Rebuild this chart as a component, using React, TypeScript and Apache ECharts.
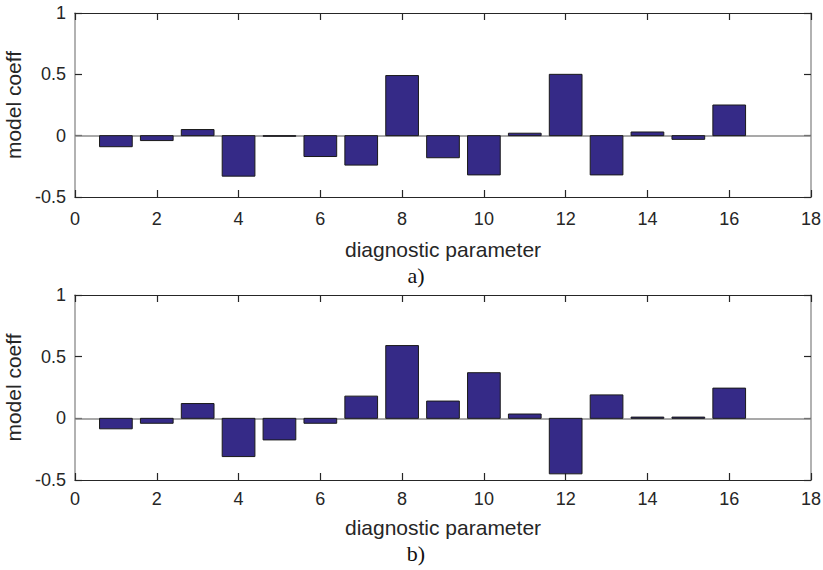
import React, { useEffect, useRef } from "react";
import * as echarts from "echarts";

const params = [1, 2, 3, 4, 5, 6, 7, 8, 9, 10, 11, 12, 13, 14, 15, 16];
const coeffA = [-0.09, -0.04, 0.05, -0.33, -0.005, -0.17, -0.24, 0.49, -0.18, -0.32, 0.02, 0.5, -0.32, 0.03, -0.03, 0.25];
const coeffB = [-0.085, -0.04, 0.12, -0.31, -0.175, -0.04, 0.18, 0.59, 0.14, 0.37, 0.035, -0.45, 0.19, 0.01, 0.01, 0.245];
const xTicks = { min: 0, max: 18, interval: 2 };
const yTicks = { min: -0.5, max: 1, interval: 0.5 };
const panelLabels = ["a)", "b)"];
const xName = "diagnostic parameter";
const yName = "model coeff";

const BAR_HALF = 0.4;
const BAR_COLOR = "#352a87";
const TEXT_COLOR = "#262626";
const SANS = "Liberation Sans, Arial, sans-serif";

export default function App() {
  const ref = useRef<HTMLDivElement>(null);
  useEffect(() => {
    if (!ref.current) return;
    const chart = echarts.init(ref.current, null, { renderer: "svg" });
    const grids = [
      { left: 75, right: 12, top: 13, height: 184, outerBoundsMode: "none", containLabel: false },
      { left: 75, right: 12, top: 295, height: 185, outerBoundsMode: "none", containLabel: false },
    ];
    const labelMargins = [13, 10];
    const nameGaps = [42, 37];
    const labelY = [275, 553];
    const xAxes: any[] = [];
    const yAxes: any[] = [];
    grids.forEach((_, g) => {
      xAxes.push({
        type: "value",
        gridIndex: g,
        position: "bottom",
        ...xTicks,
        name: xName,
        nameLocation: "middle",
        nameGap: nameGaps[g],
        nameTextStyle: { fontFamily: SANS, fontSize: 21, color: TEXT_COLOR },
        axisLine: { show: true, onZero: false, lineStyle: { color: "#262626", width: 1.2 } },
        axisTick: { show: true, inside: true, length: 7, lineStyle: { color: "#262626", width: 1.2 } },
        axisLabel: { fontFamily: SANS, fontSize: 18, color: TEXT_COLOR, margin: labelMargins[g] },
        splitLine: { show: false },
      });
      xAxes.push({
        type: "value",
        gridIndex: g,
        position: "top",
        ...xTicks,
        axisLine: { show: true, onZero: false, lineStyle: { color: "#262626", width: 1.2 } },
        axisTick: { show: true, inside: true, length: 7, lineStyle: { color: "#262626", width: 1.2 } },
        axisLabel: { show: false },
        splitLine: { show: false },
      });
      yAxes.push({
        type: "value",
        gridIndex: g,
        position: "left",
        ...yTicks,
        name: yName,
        nameLocation: "middle",
        nameGap: 40,
        nameTextStyle: { fontFamily: SANS, fontSize: 21, color: TEXT_COLOR },
        axisLine: { show: true, onZero: false, lineStyle: { color: "#999999", width: 1.5 } },
        axisTick: { show: true, inside: true, length: 7, lineStyle: { color: "#262626", width: 1.2 } },
        axisLabel: { fontFamily: SANS, fontSize: 18, color: TEXT_COLOR, margin: 9 },
        splitLine: { show: false },
      });
      yAxes.push({
        type: "value",
        gridIndex: g,
        position: "right",
        ...yTicks,
        axisLine: { show: true, onZero: false, lineStyle: { color: "#999999", width: 1.5 } },
        axisTick: { show: true, inside: true, length: 7, lineStyle: { color: "#262626", width: 1.2 } },
        axisLabel: { show: false },
        splitLine: { show: false },
      });
    });

    const makeSeries = (vals: number[], g: number) => ({
      type: "custom",
      xAxisIndex: g * 2,
      yAxisIndex: g * 2,
      data: params.map((p, i) => [p, vals[i]]),
      z: 3,
      renderItem: (_p: any, api: any) => {
        const x = api.value(0);
        const y = api.value(1);
        const a = api.coord([x - BAR_HALF, y]);
        const b = api.coord([x + BAR_HALF, 0]);
        return {
          type: "rect",
          shape: {
            x: a[0],
            y: Math.min(a[1], b[1]),
            width: b[0] - a[0],
            height: Math.abs(b[1] - a[1]),
          },
          style: { fill: BAR_COLOR, stroke: "#1a1a1a", lineWidth: 1 },
        };
      },
      markLine: {
        silent: true,
        symbol: "none",
        label: { show: false },
        lineStyle: { color: "#8c8c8c", width: 1.5, type: "solid" },
        data: [{ yAxis: 0 }],
        z: 1,
      },
    });

    chart.setOption({
      animation: false,
      backgroundColor: "#ffffff",
      grid: grids,
      xAxis: xAxes,
      yAxis: yAxes,
      series: [makeSeries(coeffA, 0), makeSeries(coeffB, 1)],
      graphic: panelLabels.map((t, i) => ({
        type: "text",
        x: 416,
        y: labelY[i],
        style: {
          text: t,
          font: "22px 'Liberation Serif', 'Times New Roman', serif",
          fill: "#111111",
          textAlign: "center",
          textVerticalAlign: "middle",
        },
      })),
    });
    return () => chart.dispose();
  }, []);
  return (
    <div
      ref={ref}
      style={{ position: "fixed", left: 0, top: 0, width: 823, height: 570, background: "#fff" }}
    />
  );
}
